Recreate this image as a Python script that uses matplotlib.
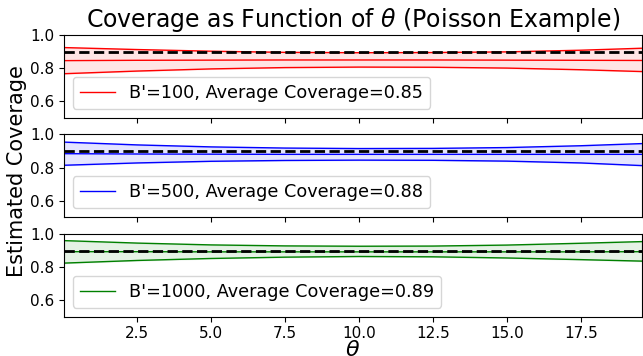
import numpy as np
import matplotlib
matplotlib.use("Agg")
import matplotlib.pyplot as plt

theta = [0.02, 2.5, 5.0, 7.5, 10.0, 12.5, 15.0, 17.5, 19.57]

red_upper = [0.924, 0.912, 0.902, 0.895, 0.893, 0.894, 0.898, 0.908, 0.920]
red_mean = [0.845, 0.847, 0.848, 0.849, 0.849, 0.849, 0.848, 0.847, 0.846]
red_lower = [0.766, 0.782, 0.795, 0.803, 0.806, 0.805, 0.800, 0.790, 0.779]

blue_upper = [0.954, 0.937, 0.925, 0.918, 0.915, 0.916, 0.921, 0.932, 0.945]
blue_mean = [0.884, 0.882, 0.881, 0.880, 0.880, 0.880, 0.880, 0.880, 0.880]
blue_lower = [0.814, 0.828, 0.838, 0.843, 0.845, 0.844, 0.839, 0.828, 0.812]

green_upper = [0.960, 0.945, 0.934, 0.928, 0.926, 0.927, 0.933, 0.944, 0.954]
green_mean = [0.893, 0.893, 0.892, 0.892, 0.892, 0.892, 0.892, 0.892, 0.893]
green_lower = [0.824, 0.840, 0.852, 0.860, 0.864, 0.862, 0.855, 0.845, 0.836]

b_values = [100, 500, 1000]
avg_coverage = [0.85, 0.88, 0.89]
colors = ['red', 'blue', 'green']
nominal = 0.9

uppers = [red_upper, blue_upper, green_upper]
means = [red_mean, blue_mean, green_mean]
lowers = [red_lower, blue_lower, green_lower]

fig, axes = plt.subplots(3, 1, sharex=True, figsize=(6.43, 3.56), dpi=100)
fig.subplots_adjust(left=0.0995, right=0.9984, top=0.9017, bottom=0.1104, hspace=0.203)

for ax, b, avg, c, up, mu, lo in zip(axes, b_values, avg_coverage, colors, uppers, means, lowers):
    ax.plot(theta, mu, color=c, lw=1, label="B'=%d, Average Coverage=%.2f" % (b, avg))
    ax.plot(theta, up, color=c, lw=1)
    ax.plot(theta, lo, color=c, lw=1)
    ax.fill_between(theta, lo, up, color=c, alpha=0.1)
    ax.axhline(nominal, color='black', ls='--', lw=2)
    ax.set_ylim(0.5, 1.0)
    ax.set_yticks([0.6, 0.8, 1.0])
    ax.tick_params(labelsize=11)
    ax.legend(loc='lower left', fontsize=12.7)

axes[0].set_xlim(theta[0], theta[-1])
axes[0].set_title(r'Coverage as Function of $\theta$ (Poisson Example)', fontsize=17)
axes[2].set_xlabel(r'$\theta$', fontsize=16, labelpad=-1)
fig.text(0.027, 0.52, 'Estimated Coverage', rotation=90, ha='center', va='center', fontsize=15)

plt.savefig('out.png', dpi=100)
